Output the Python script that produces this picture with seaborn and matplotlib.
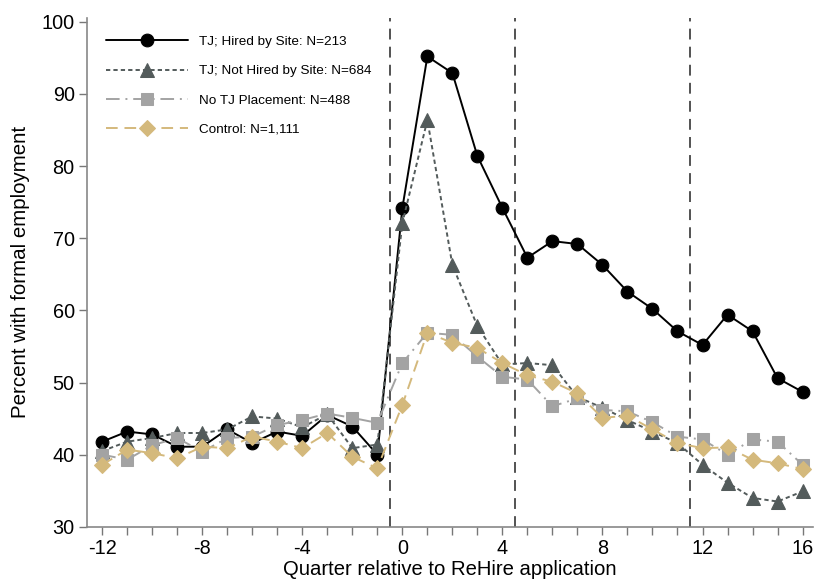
import numpy as np
import pandas as pd
import matplotlib
matplotlib.use("Agg")
import matplotlib.pyplot as plt
import seaborn as sns
from matplotlib.ticker import MultipleLocator

sns.set_theme(style="white")
plt.rcParams['font.family'] = ['Liberation Sans', 'DejaVu Sans']
plt.rcParams['axes.unicode_minus'] = False
plt.rcParams['text.color'] = 'black'
plt.rcParams['axes.labelcolor'] = 'black'
plt.rcParams['xtick.color'] = 'black'
plt.rcParams['ytick.color'] = 'black'

quarters = list(range(-12, 17))

tj_hired = [41.8, 43.2, 42.8, 41.1, 41.1, 43.5, 41.6, 43.2, 42.6, 45.5, 43.9, 40.0,
            74.2, 95.2, 92.9, 81.4, 74.2, 67.3, 69.6, 69.2, 66.3, 62.6, 60.2, 57.1,
            55.2, 59.4, 57.1, 50.6, 48.7]
tj_not_hired = [40.5, 41.8, 42.3, 43.0, 43.0, 43.5, 45.3, 45.0, 43.8, 45.6, 40.9, 41.4,
                72.1, 86.4, 66.3, 57.8, 52.5, 52.7, 52.4, 48.0, 46.5, 44.8, 43.2, 41.6,
                38.6, 36.1, 34.0, 33.5, 34.9]
no_tj = [40.0, 39.3, 41.3, 42.3, 40.4, 42.3, 42.5, 44.1, 44.8, 45.7, 45.1, 44.4,
         52.7, 56.9, 56.6, 53.6, 50.8, 50.4, 46.7, 47.8, 46.2, 46.0, 44.5, 42.5,
         42.1, 40.0, 42.1, 41.8, 38.6]
control = [38.6, 40.7, 40.2, 39.5, 41.1, 40.9, 42.5, 41.8, 40.9, 43.0, 39.7, 38.1,
           46.9, 56.9, 55.5, 54.8, 52.7, 51.0, 50.1, 48.5, 45.1, 45.4, 43.5, 41.6,
           40.9, 41.0, 39.3, 38.8, 38.0]

labels = ["TJ; Hired by Site: N=213", "TJ; Not Hired by Site: N=684",
          "No TJ Placement: N=488", "Control: N=1,111"]
vlines = [-0.5, 4.5, 11.5]

fig = plt.figure(figsize=(8.15, 5.84), dpi=100)
ax = fig.add_axes([0.107, 0.098, 0.89, 0.872])

styles = [
    dict(color="#000000", marker="o", dashes=None, ms=9.2),
    dict(color="#535b5b", marker="^", dashes=(2.2, 1.6), ms=9.7),
    dict(color="#a3a3a3", marker="s", dashes=(7, 3, 1, 3), ms=8.7),
    dict(color="#d4b97c", marker="D", dashes=(6, 3.5), ms=8.2),
]
series = [tj_hired, tj_not_hired, no_tj, control]

for vals, lab, st in zip(series, labels, styles):
    df = pd.DataFrame({"q": quarters, "v": vals})
    sns.lineplot(data=df, x="q", y="v", ax=ax, color=st["color"], marker=st["marker"],
                 markersize=st["ms"], markeredgecolor=st["color"], linewidth=1.4,
                 label=lab)
    l = ax.lines[-1]
    if st["dashes"] is not None:
        l.set_dashes(st["dashes"])

for xv in vlines:
    ax.axvline(xv, color="#444444", linestyle=(0, (6, 4)), linewidth=1.3, zorder=0)

ax.set_xlim(-12.6, 16.4)
ax.set_ylim(30, 100.6)
ax.xaxis.set_major_locator(MultipleLocator(4))
ax.xaxis.set_minor_locator(MultipleLocator(1))
ax.set_yticks(range(30, 101, 10))
ax.tick_params(axis="both", which="major", direction="out", length=6, width=1,
               color="#777777", labelcolor="black", labelsize=14.3,
               bottom=True, left=True, pad=3)
ax.tick_params(axis="x", which="minor", direction="out", length=6, width=1,
               color="#777777", bottom=True)
for s in ["top", "right"]:
    ax.spines[s].set_visible(False)
for s in ["left", "bottom"]:
    ax.spines[s].set_color("#888888")
    ax.spines[s].set_linewidth(1.2)

ax.set_xlabel("Quarter relative to ReHire application", fontsize=14.6, labelpad=1)
ax.set_ylabel("Percent with formal employment", fontsize=14.8, labelpad=8)

ax.legend(loc="upper left", frameon=False, fontsize=9.7, handlelength=6.1,
          labelspacing=1.25, handletextpad=0.85, bbox_to_anchor=(0.0090, 0.988))

fig.savefig("out.png", dpi=100)
